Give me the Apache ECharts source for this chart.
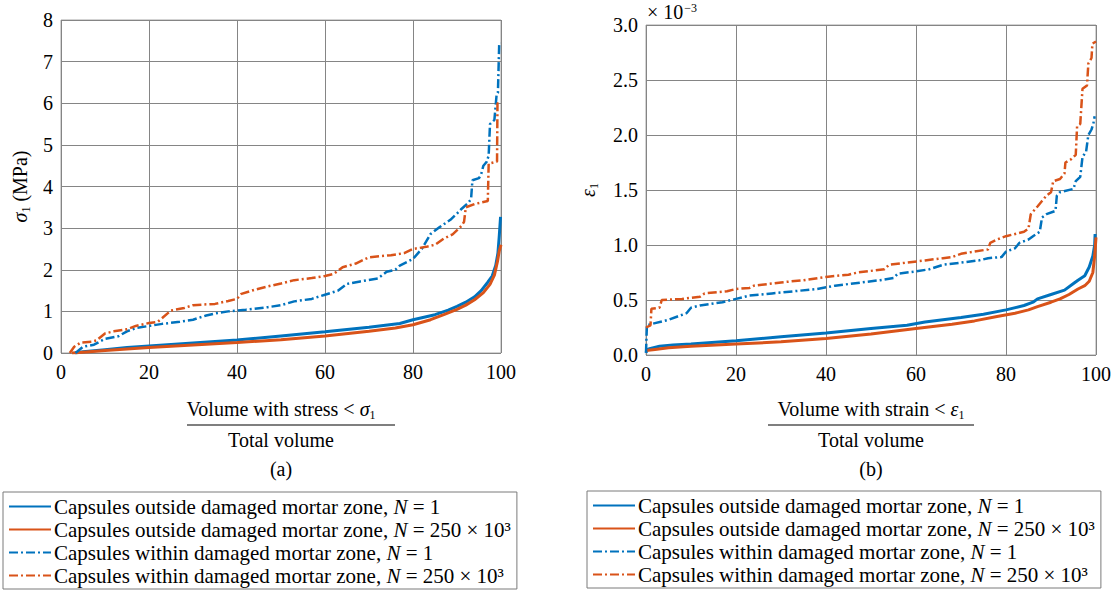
<!DOCTYPE html>
<html><head><meta charset="utf-8">
<script src="https://cdn.jsdelivr.net/npm/echarts@6/dist/echarts.min.js"></script>
<style>html,body{margin:0;padding:0;background:#fff}#c{width:1115px;height:591px}</style>
</head><body><div id="c"></div>
<script>
// ---- data (a): stress sigma1 (MPa) vs volume fraction (%)
const xTicks = [0, 20, 40, 60, 80, 100];
const stressOutN1 = [[3.2,0],[5,0.03],[10,0.08],[15,0.13],[20,0.17],[30,0.24],[40,0.31],[50,0.41],[60,0.51],[70,0.62],[77,0.71],[80,0.8],[85,0.92],[88,1.03],[90,1.12],[92,1.22],[94,1.35],[95.5,1.5],[97,1.7],[98,1.85],[98.8,2.1],[99.3,2.4],[99.6,2.8],[99.9,3.27]];
const stressOutN250 = [[2.5,0],[5,0.02],[10,0.06],[20,0.13],[30,0.19],[40,0.25],[50,0.32],[60,0.41],[70,0.52],[76,0.6],[80,0.68],[84,0.8],[87,0.92],[90,1.05],[92,1.15],[94,1.28],[96,1.45],[97.5,1.65],[98.5,1.87],[99.2,2.2],[99.6,2.45],[100,2.6]];
const stressInN1 = [[3.3,0],[5,0.15],[7.5,0.2],[10,0.34],[13,0.4],[15,0.52],[17,0.6],[20,0.65],[23,0.7],[27,0.75],[30,0.8],[33,0.9],[35,0.95],[38,1.0],[42,1.04],[47,1.1],[50,1.15],[53,1.24],[57,1.3],[60,1.4],[63,1.5],[65,1.66],[68,1.72],[72,1.79],[74,1.95],[76,2.0],[77,2.1],[80,2.26],[82,2.5],[84,2.86],[86,3.02],[88.5,3.2],[90,3.35],[91,3.46],[92.5,3.6],[93.2,3.7],[93.5,4.15],[95,4.2],[95.5,4.3],[96,4.5],[96.8,4.6],[97.2,4.75],[97.5,5.5],[98.5,5.6],[99,6.2],[99.3,6.25],[99.6,7.45],[99.8,7.45]];
const stressInN250 = [[2,0],[3,0.15],[4.5,0.25],[7,0.27],[8,0.3],[10,0.47],[12,0.52],[15,0.57],[17,0.65],[20,0.72],[22,0.75],[23,0.84],[25,1.02],[28,1.08],[30,1.15],[35,1.18],[38,1.25],[40,1.3],[41,1.42],[44,1.52],[47,1.6],[50,1.67],[53,1.75],[57,1.8],[60,1.85],[62,1.9],[64,2.06],[67,2.15],[70,2.3],[75,2.35],[78,2.4],[80,2.5],[83,2.55],[85,2.6],[87,2.75],[89,2.85],[91,3.05],[91.6,3.15],[92,3.5],[94,3.58],[97,3.65],[97.2,4.55],[99.1,4.6],[99.2,6.0],[100,6.0]];
// ---- data (b): strain eps1 (x1e-3) vs volume fraction (%)
const strainOutN1 = [[0,0.02],[0.3,0.05],[1,0.06],[3,0.08],[6,0.09],[10,0.1],[20,0.13],[30,0.165],[40,0.2],[50,0.24],[58,0.27],[62,0.3],[70,0.34],[75,0.37],[80,0.41],[84,0.45],[86,0.48],[87,0.51],[90,0.55],[93,0.59],[95,0.65],[96,0.68],[97.5,0.72],[98.5,0.8],[99.3,0.9],[99.7,1.0],[99.8,1.1]];
const strainOutN250 = [[0,0.04],[2,0.05],[5,0.065],[10,0.08],[20,0.1],[30,0.12],[40,0.15],[50,0.19],[60,0.24],[68,0.28],[73,0.31],[78,0.35],[82,0.38],[85,0.41],[87,0.44],[90,0.48],[92,0.51],[94,0.55],[96,0.6],[97.5,0.63],[98.5,0.67],[99.3,0.75],[99.7,0.9],[100,1.07]];
const strainInN1 = [[0,0.02],[0.2,0.27],[2,0.29],[5,0.32],[7,0.35],[9,0.38],[10,0.43],[12,0.45],[17,0.48],[20,0.51],[23,0.54],[28,0.56],[33,0.58],[38,0.6],[42,0.63],[48,0.66],[52,0.68],[55,0.7],[56,0.74],[60,0.76],[63,0.78],[66,0.82],[70,0.84],[74,0.86],[76,0.88],[79,0.89],[80,0.94],[82,0.97],[83,1.02],[85,1.05],[86,1.08],[87.5,1.12],[88,1.25],[89,1.28],[91,1.31],[91.3,1.45],[92,1.48],[95,1.51],[95.5,1.58],[96.5,1.62],[97,1.8],[97.8,1.85],[98.3,2.0],[99,2.05],[99.4,2.1],[99.7,2.17]];
const strainInN250 = [[0,0.25],[1,0.27],[1.2,0.42],[3,0.43],[3.5,0.5],[8,0.51],[12,0.53],[13,0.56],[18,0.58],[20,0.6],[23,0.61],[24,0.63],[30,0.66],[35,0.68],[40,0.71],[45,0.73],[47,0.75],[53,0.78],[54,0.82],[58,0.84],[62,0.86],[66,0.88],[68,0.89],[70,0.92],[73,0.94],[76,0.96],[76.5,1.02],[78,1.05],[80,1.08],[84,1.12],[85,1.15],[85.5,1.28],[87,1.35],[88,1.4],[89,1.45],[90,1.48],[90.5,1.58],[92,1.6],[93,1.65],[93.2,1.75],[94.5,1.78],[95.5,1.82],[95.8,2.08],[96.5,2.1],[97,2.42],[98,2.45],[98.3,2.65],[99,2.7],[99.2,2.83],[100,2.85]];
const seriesNames = ['outN1','outN250','inN1','inN250'];
const legendLabels = {
  outN1: 'Capsules outside damaged mortar zone, {it|N} = 1',
  outN250: 'Capsules outside damaged mortar zone, {it|N} = 250 × 10³',
  inN1: 'Capsules within damaged mortar zone, {it|N} = 1',
  inN250: 'Capsules within damaged mortar zone, {it|N} = 250 × 10³'
};

const FONT = "'Liberation Serif', 'Times New Roman', serif";
const BLUE = '#0072BD', ORANGE = '#D95319';
const DASHDOT = [9, 3, 2, 3];
const styles = {
  outN1: {color: BLUE, width: 3, type: 'solid'},
  outN250: {color: ORANGE, width: 3, type: 'solid'},
  inN1: {color: BLUE, width: 2.5, type: DASHDOT},
  inN250: {color: ORANGE, width: 2.5, type: DASHDOT}
};
const dataA = {outN1: stressOutN1, outN250: stressOutN250, inN1: stressInN1, inN250: stressInN250};
const dataB = {outN1: strainOutN1, outN250: strainOutN250, inN1: strainInN1, inN250: strainInN250};

const chart = echarts.init(document.getElementById('c'), null, {renderer: 'svg'});
const lbl = {fontFamily: FONT, fontSize: 20, color: '#000'};
function xAx(gi) {
  return {gridIndex: gi, type: 'value', min: 0, max: 100, interval: 20,
    axisLine: {show: false}, axisTick: {show: false},
    axisLabel: Object.assign({margin: 9}, lbl),
    splitLine: {show: true, lineStyle: {color: '#858585', width: 1}}};
}
const series = [];
[dataA, dataB].forEach((d, gi) => {
  seriesNames.forEach(n => {
    series.push({name: n, type: 'line', xAxisIndex: gi, yAxisIndex: gi, data: d[n],
      showSymbol: false, symbol: 'none', silent: true, animation: false, z: n.startsWith('in') ? 3 : 2,
      lineStyle: {color: styles[n].color, width: styles[n].width, type: styles[n].type},
      itemStyle: {color: styles[n].color}});
  });
});
const legendCommon = {
  orient: 'vertical', data: seriesNames, itemWidth: 42, itemHeight: 14, itemGap: 0,
  backgroundColor: '#fff', borderColor: '#7a7a7a', borderWidth: 1,
  padding: [3, 6, 2, 5], selectedMode: false,
  itemStyle: {opacity: 0, borderWidth: 0},
  formatter: n => legendLabels[n],
  textStyle: {fontFamily: FONT, fontSize: 21, color: '#000', lineHeight: 23, padding: [0, 0, 0, -2],
    rich: {it: {fontFamily: FONT, fontSize: 21, fontStyle: 'italic', color: '#000', lineHeight: 23}}}
};
const subRich = {
  i: {fontFamily: FONT, fontSize: 20, fontStyle: 'italic', color: '#000'},
  s: {fontFamily: FONT, fontSize: 12, color: '#000', verticalAlign: 'bottom', padding: [0, 0, -2, 0]},
  n: {fontFamily: FONT, fontSize: 20, color: '#000'}
};
chart.setOption({
  animation: false,
  grid: [
    {left: 61, top: 20, width: 440, height: 333, show: true, borderColor: '#a6a6a6', borderWidth: 1, backgroundColor: 'transparent'},
    {left: 646, top: 25, width: 450, height: 330, show: true, borderColor: '#a6a6a6', borderWidth: 1, backgroundColor: 'transparent'}
  ],
  xAxis: [xAx(0), xAx(1)],
  yAxis: [
    {gridIndex: 0, type: 'value', min: 0, max: 8, interval: 1,
      axisLine: {show: false}, axisTick: {show: false},
      axisLabel: Object.assign({margin: 8}, lbl),
      splitLine: {show: true, lineStyle: {color: '#858585', width: 1}},
      name: '{i|σ}{s|1}{n| (MPa)}', nameLocation: 'middle', nameRotate: 90, nameGap: 31,
      nameTextStyle: {rich: subRich}},
    {gridIndex: 1, type: 'value', min: 0, max: 3, interval: 0.5,
      axisLine: {show: false}, axisTick: {show: false},
      axisLabel: Object.assign({margin: 8, formatter: v => v.toFixed(1)}, lbl),
      splitLine: {show: true, lineStyle: {color: '#858585', width: 1}},
      name: '{i|ε}{s|1}', nameLocation: 'middle', nameRotate: 90, nameGap: 48,
      nameTextStyle: {rich: subRich}}
  ],
  legend: [
    Object.assign({}, legendCommon, {left: 3, top: 492}),
    Object.assign({}, legendCommon, {left: 587, top: 491})
  ],
  graphic: [
    {type: 'text', x: 281, y: 409, style: {text: '{n|Volume with stress < }{i|σ}{s|1}', align: 'center', verticalAlign: 'middle', rich: subRich}},
    {type: 'line', shape: {x1: 187, y1: 425, x2: 395, y2: 425}, style: {stroke: '#000', lineWidth: 1.2}},
    {type: 'text', x: 281, y: 440, style: {text: 'Total volume', font: '20px ' + FONT, fill: '#000', align: 'center', verticalAlign: 'middle'}},
    {type: 'text', x: 281, y: 469, style: {text: '(a)', font: '20px ' + FONT, fill: '#000', align: 'center', verticalAlign: 'middle'}},
    {type: 'text', x: 871, y: 409, style: {text: '{n|Volume with strain < }{i|ε}{s|1}', align: 'center', verticalAlign: 'middle', rich: subRich}},
    {type: 'line', shape: {x1: 768, y1: 425, x2: 974, y2: 425}, style: {stroke: '#000', lineWidth: 1.2}},
    {type: 'text', x: 871, y: 440, style: {text: 'Total volume', font: '20px ' + FONT, fill: '#000', align: 'center', verticalAlign: 'middle'}},
    {type: 'text', x: 871, y: 469, style: {text: '(b)', font: '20px ' + FONT, fill: '#000', align: 'center', verticalAlign: 'middle'}},
    {type: 'text', x: 647, y: 12, style: {text: '{n|× 10}{p|−3}', align: 'left', verticalAlign: 'middle',
      rich: {n: {fontFamily: FONT, fontSize: 20, color: '#000'}, p: {fontFamily: FONT, fontSize: 12, color: '#000', verticalAlign: 'top', padding: [0, 0, 6, 1]}}}}
  ],
  series: series
});
</script></body></html>
